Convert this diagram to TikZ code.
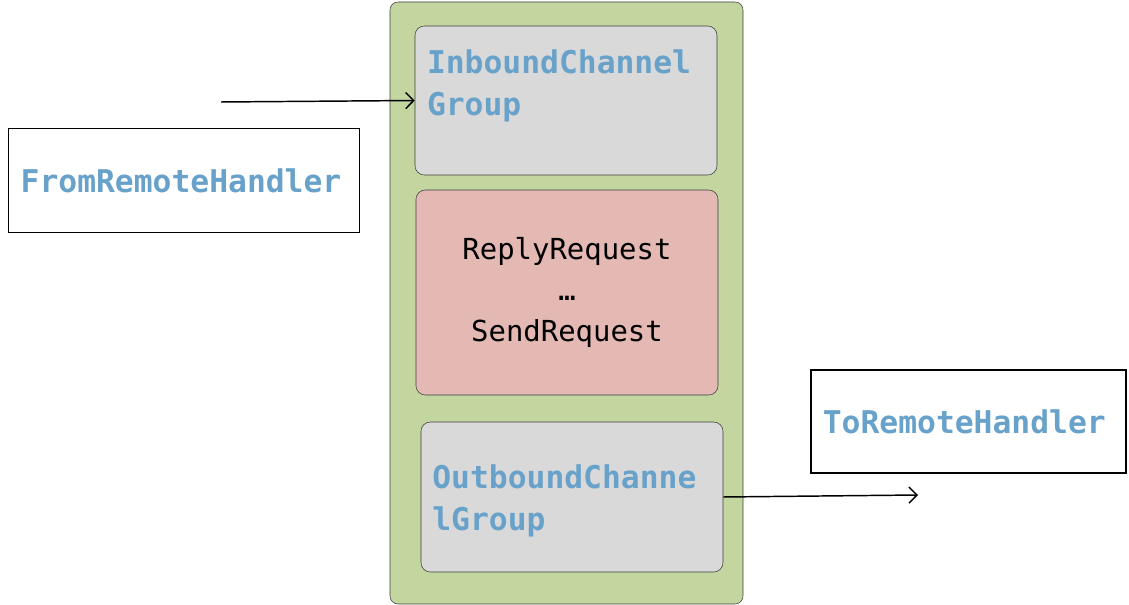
\documentclass[tikz,border=0pt]{standalone}
\usepackage{fontspec}
\setmonofont{DejaVu Sans Mono}
\usetikzlibrary{positioning, arrows.meta}

\definecolor{verde}{RGB}{196,214,160}
\definecolor{cinza}{RGB}{217,217,217}
\definecolor{rosa}{RGB}{228,185,180}
\definecolor{azul}{RGB}{104,162,202}
\definecolor{borda}{RGB}{60,60,60}

\tikzset{
    caixa/.style={draw=borda, rounded corners=7pt, minimum width=226.5pt, inner sep=0pt},
    handler/.style={draw, line width=1.1pt, minimum height=78pt, inner xsep=9pt, align=left},
    seta/.style={line width=1.1pt, -{Straight Barb[length=6pt, width=12pt]}},
    azultexto/.style={text=azul, font=\ttfamily\bfseries\fontsize{23.5}{31.5}\selectfont},
    pretotexto/.style={text=black, font=\ttfamily\fontsize{21.7}{30.5}\selectfont}
}

\begin{document}
\begin{tikzpicture}[x=0.75pt,y=-0.75pt]
        \useasboundingbox (0,0) rectangle (1129,605);

        \node[draw=borda, fill=verde, rounded corners=6pt, minimum width=264.75pt, minimum height=451.5pt] (grupo) at (566.5,303) {};

        \node[caixa, fill=cinza, minimum height=111.75pt] (in) at (566,100.5) {};
        \node[azultexto, anchor=north west, inner sep=0pt, align=left] (intxt) at ([shift={(9pt,-18pt)}]in.north west) {InboundChannel\\Group};

        \node[caixa, fill=rosa, minimum height=153.75pt, pretotexto, align=center] (req) at (567,292.5) {ReplyRequest\\…\\SendRequest};

        \node[caixa, fill=cinza, minimum height=112.5pt] (out) at (572,497) {};
        \node[azultexto, anchor=north west, inner sep=0pt, align=left] (outtxt) at ([shift={(8.5pt,-32pt)}]out.north west) {OutboundChanne\\lGroup};

        \node[handler, azultexto, text width=245pt] (from) at (184,180.5) {FromRemoteHandler};
        \node[handler, azultexto, text width=218.5pt, minimum height=77pt] (to) at (968.5,421.5) {ToRemoteHandler};

        \coordinate (entrada) at (221,102);
        \coordinate (saida) at (918,495);
        \draw[seta] (entrada) -- (in.west);
        \draw[seta] (out.east) -- (saida);
\end{tikzpicture}
\end{document}
